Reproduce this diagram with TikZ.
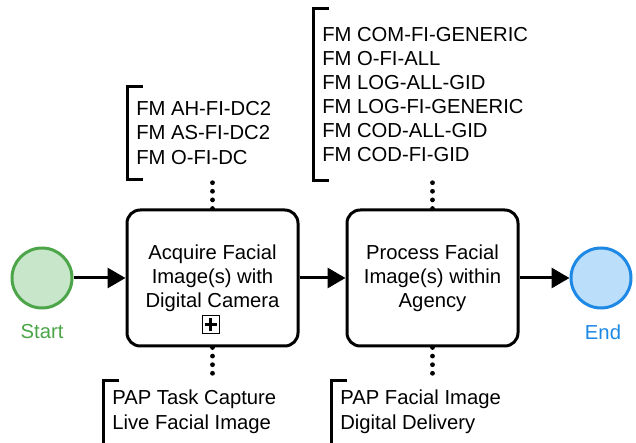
\documentclass[tikz,border=0pt]{standalone}
\usepackage{fontspec}
\setmainfont{Liberation Sans}
\usetikzlibrary{arrows.meta,positioning,calc}

\definecolor{startgreen}{RGB}{76,165,72}
\definecolor{startfill}{RGB}{200,230,201}
\definecolor{endblue}{RGB}{30,136,229}
\definecolor{endfill}{RGB}{187,222,251}

\begin{document}
\begin{tikzpicture}[
    every node/.style={font=\fontsize{14.4}{17.2}\selectfont},
    startev/.style={circle, draw=startgreen, fill=startfill, line width=0.075cm, minimum size=1.5cm, inner sep=0pt},
    endev/.style={circle, draw=endblue, fill=endfill, line width=0.075cm, minimum size=1.5cm, inner sep=0pt},
    task/.style={rectangle, draw=black, fill=white, line width=0.075cm, rounded corners=0.33cm, minimum width=4.275cm, minimum height=3.4cm, align=center},
    marker/.style={rectangle, draw=black, line width=0.04cm, minimum width=0.42cm, minimum height=0.45cm, inner sep=0pt},
    note/.style={align=left, inner xsep=0.225cm, inner ysep=0pt},
    bracket/.style={draw=black, line width=0.075cm},
    flow/.style={-{Triangle[length=0.45cm,width=0.5cm]}, line width=0.075cm},
    assoc/.style={line width=0.12cm, line cap=round, dash pattern=on 0pt off 0.215cm}
]
\useasboundingbox (0,0) rectangle (15.9,11.05);

% events and tasks
\node[startev] (start) at (1.05,4.1) {};
\node[text=startgreen] (startlbl) at (1.05,2.75) {Start};
\node[task] (acquire) at (5.3125,4.1) {Acquire Facial\\Image(s) with\\Digital Camera};
\node[marker] (subproc) at ([xshift=-0.04cm,yshift=0.575cm]acquire.south) {};
\node[task] (process) at (10.8125,4.1) {Process Facial\\Image(s) within\\Agency};
\node[endev] (end) at (15.025,4.1) {};
\node[text=endblue] (endlbl) at (15.075,2.75) {End};

% sub-process plus
\draw[line width=0.075cm] ([yshift=-0.08cm]subproc.north) -- ([yshift=0.08cm]subproc.south);
\draw[line width=0.075cm] ([xshift=0.07cm]subproc.west) -- ([xshift=-0.07cm]subproc.east);

% sequence flows
\draw[flow] (start) -- (acquire);
\draw[flow] (acquire) -- (process);
\draw[flow] (process) -- (end);

% annotations above
\node[note, anchor=west, minimum height=2.3cm] (fmone) at (3.175,7.725) {FM AH-FI-DC2\\FM AS-FI-DC2\\FM O-FI-DC};
\node[note, anchor=west, minimum height=4.275cm] (fmtwo) at (7.825,8.6875) {FM COM-FI-GENERIC\\FM O-FI-ALL\\FM LOG-ALL-GID\\FM LOG-FI-GENERIC\\FM COD-ALL-GID\\FM COD-FI-GID};
\draw[bracket] ([xshift=0.4cm]fmone.north west) -- (fmone.north west) -- (fmone.south west) -- ++(0.4cm,0);
\draw[bracket] ([xshift=0.4cm]fmtwo.north west) -- (fmtwo.north west) -- (fmtwo.south west) -- ++(0.4cm,0);
\draw[assoc] (acquire.north) -- (acquire.north |- fmone.south);
\draw[assoc] (process.north) -- (process.north |- fmtwo.south);

% annotations below
\node[note, anchor=north west, inner ysep=0.25cm] (papone) at (2.575,1.55) {PAP Task Capture\\Live Facial Image};
\node[note, anchor=north west, inner ysep=0.25cm] (paptwo) at (8.275,1.55) {PAP Facial Image\\Digital Delivery};
\draw[bracket] ([xshift=0.4cm]papone.north west) -- (papone.north west) -- ++(0,-1.7);
\draw[bracket] ([xshift=0.4cm]paptwo.north west) -- (paptwo.north west) -- ++(0,-1.7);
\draw[assoc] (acquire.south) -- (acquire.south |- papone.north);
\draw[assoc] (process.south) -- (process.south |- paptwo.north);

\end{tikzpicture}
\end{document}
